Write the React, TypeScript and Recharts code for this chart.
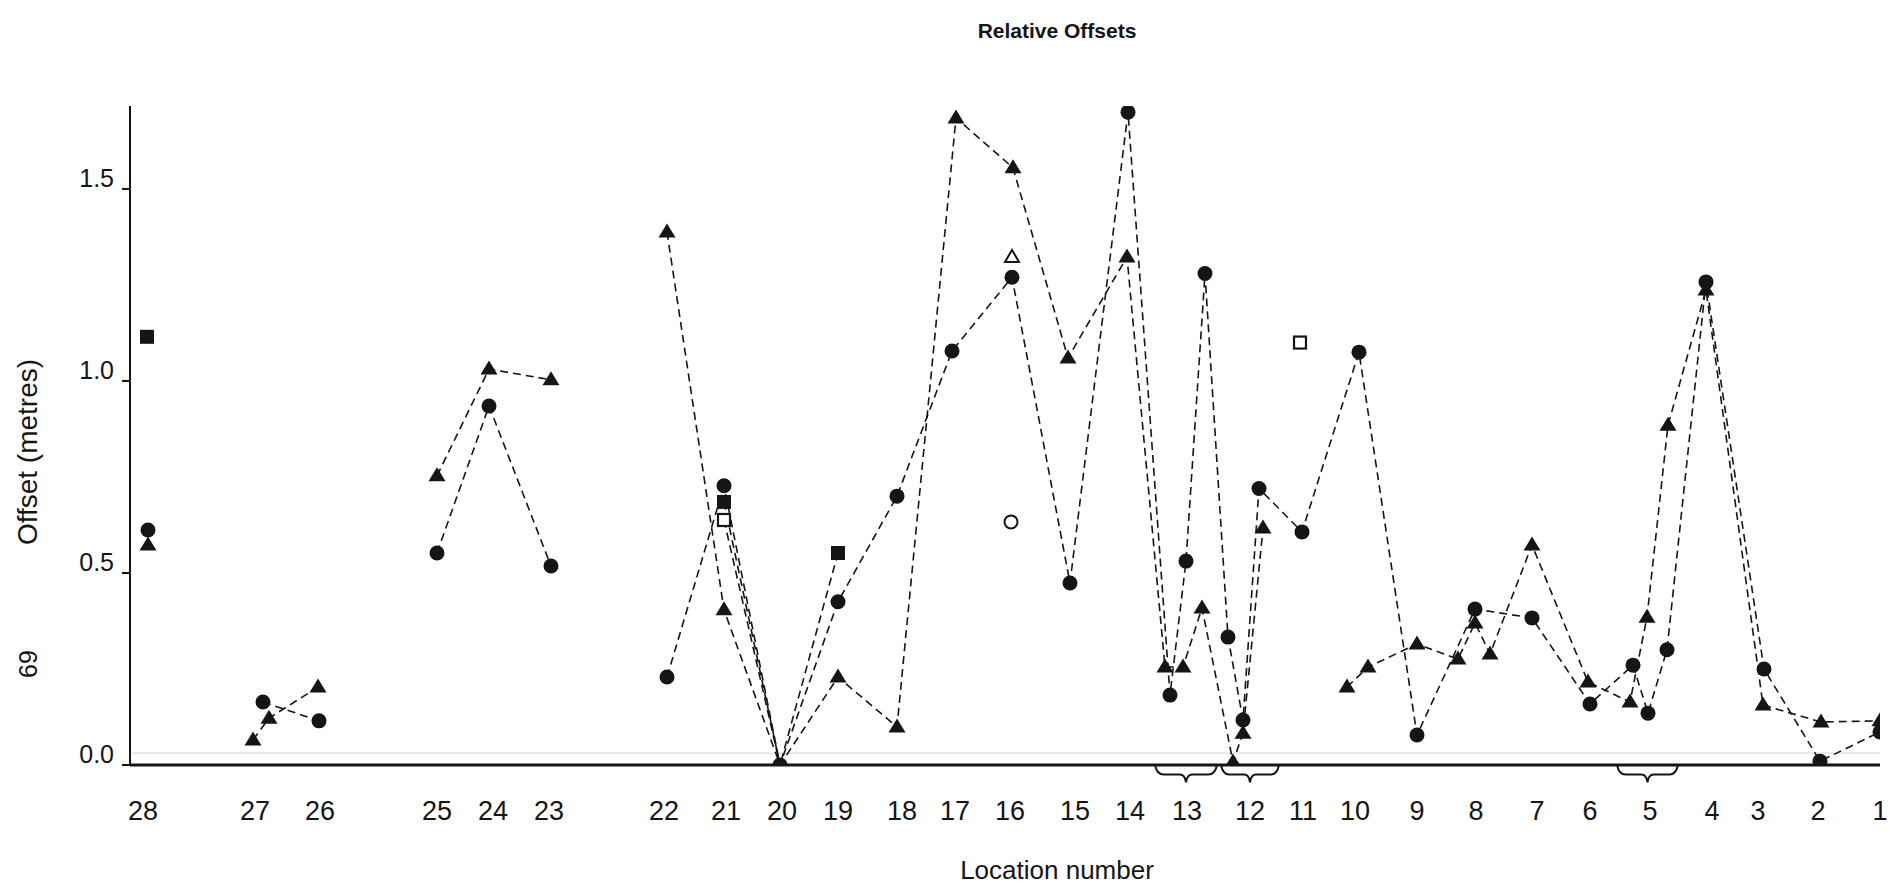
import React from 'react';
import { LineChart, Line, XAxis, YAxis, ReferenceLine, ReferenceArea } from 'recharts';

// Location labels along the traverse and their positions (distance units)
const locationLabels = ['28','27','26','25','24','23','22','21','20','19','18','17','16','15','14','13','12','11','10','9','8','7','6','5','4','3','2','1'];
const locationPos = [1.3,12.5,19.0,30.7,36.3,41.9,53.4,59.6,65.2,70.8,77.2,82.5,88.0,94.5,100.0,105.7,112.0,117.3,122.5,128.7,134.6,140.7,146.0,152.0,158.2,162.8,168.8,175.0];

// Filled circles (null = break in the dashed line)
const circlePos = [1.8,null,13.3,18.9,null,30.7,35.9,42.1,null,53.7,59.4,65.0,70.8,76.7,82.2,88.2,94.0,99.8,104.0,105.6,107.5,109.8,111.3,112.9,117.2,122.9,128.7,134.5,140.2,146.0,150.3,151.8,153.7,157.6,163.4,169.0,175.0];
const circleVal = [0.612,null,0.164,0.115,null,0.552,0.935,0.518,null,0.229,0.727,0,0.425,0.70,1.078,1.27,0.474,1.70,0.182,0.531,1.28,0.333,0.117,0.72,0.607,1.075,0.078,0.406,0.383,0.159,0.26,0.135,0.30,1.258,0.25,0.01,0.086];

// Filled triangles
const triPos = [1.8,null,12.3,13.9,18.8,null,30.7,35.9,42.1,null,53.7,59.4,65.0,70.8,76.7,82.6,88.3,93.8,99.7,103.5,105.3,107.2,110.3,111.3,113.3,null,121.7,123.8,128.7,132.8,134.5,136.0,140.2,145.8,150.0,151.7,153.8,157.6,163.3,169.1,175.0];
const triVal = [0.573,null,0.065,0.122,0.203,null,0.753,1.031,1.003,null,1.388,0.404,0,0.229,0.099,1.685,1.555,1.06,1.323,0.255,0.255,0.409,0.008,0.083,0.617,null,0.203,0.255,0.315,0.276,0.37,0.289,0.573,0.216,0.164,0.385,0.885,1.237,0.156,0.112,0.115];

// Filled squares
const sqPos = [1.7,null,59.4,65.0,70.8];
const sqVal = [1.115,null,0.685,0,0.552];

// Open squares
const osqPos = [59.4,65.0,null,117.0];
const osqVal = [0.638,0,null,1.10];

// Open triangle and open circle
const otriPos = [88.2];
const otriVal = [1.323];
const ocircPos = [88.1];
const ocircVal = [0.633];

// Braces under the axis (grouped sub-locations)
const braceFrom = [102.5, 109.1, 148.7];
const braceTo = [108.7, 114.9, 154.8];

// Location where several series meet under the circle marker
const junctionX = 65.0;

const yTicks = [0, 0.5, 1.0, 1.5];

function build(pos: (number | null)[], val: (number | null)[]) {
  return pos.map((p, i) => {
    if (p === null) {
      const a = pos[i - 1] as number;
      const b = pos[i + 1] as number;
      return { x: (a + b) / 2, y: null };
    }
    return { x: p, y: val[i] };
  });
}

const circleData = build(circlePos, circleVal);
const triData = build(triPos, triVal);
const sqData = build(sqPos, sqVal);
const osqData = build(osqPos, osqVal);
const otriData = build(otriPos, otriVal);
const ocircData = build(ocircPos, ocircVal);

const INK = '#151515';
const FONT = '"Liberation Sans", Arial, Helvetica, sans-serif';

const ok = (p: any) => p && p.cx != null && p.cy != null && p.value != null && !Number.isNaN(p.cy);

const CircleDot = (p: any) => ok(p) ? <circle key={p.key} cx={p.cx} cy={p.cy} r={7.5} fill={INK} /> : <g key={p.key} />;
const TriDot = (p: any) => (ok(p) && p.payload.x !== junctionX)
  ? <polygon key={p.key} points={`${p.cx},${p.cy - 8.5} ${p.cx + 8.5},${p.cy + 5.5} ${p.cx - 8.5},${p.cy + 5.5}`} fill={INK} />
  : <g key={p.key} />;
const SqDot = (p: any) => (ok(p) && p.payload.x !== junctionX)
  ? <rect key={p.key} x={p.cx - 7} y={p.cy - 7} width={14} height={14} fill={INK} />
  : <g key={p.key} />;
const OSqDot = (p: any) => (ok(p) && p.payload.x !== junctionX)
  ? <rect key={p.key} x={p.cx - 6} y={p.cy - 6} width={12} height={12} fill="#fff" stroke={INK} strokeWidth={2.2} />
  : <g key={p.key} />;
const OTriDot = (p: any) => ok(p)
  ? <polygon key={p.key} points={`${p.cx},${p.cy - 7} ${p.cx + 7},${p.cy + 5} ${p.cx - 7},${p.cy + 5}`} fill="#fff" stroke={INK} strokeWidth={2} />
  : <g key={p.key} />;
const OCircDot = (p: any) => ok(p) ? <circle key={p.key} cx={p.cx} cy={p.cy} r={6.5} fill="#fff" stroke={INK} strokeWidth={2} /> : <g key={p.key} />;

const XTick = (props: any) => {
  const { x, y, payload } = props;
  const idx = locationPos.indexOf(payload.value);
  return (
    <text x={x} y={y + 55} textAnchor="middle" fontSize={27} fontFamily={FONT} fill={INK}>
      {idx >= 0 ? locationLabels[idx] : ''}
    </text>
  );
};

const YTick = (props: any) => {
  const { x, y, payload } = props;
  return (
    <text x={x - 4} y={y - 2} textAnchor="end" fontSize={25} fontFamily={FONT} fill={INK}>
      {Number(payload.value).toFixed(1)}
    </text>
  );
};

const Brace = (props: any) => {
  const { x, y, width, height } = props;
  const x0 = x, x1 = x + width, xm = x + width / 2;
  const y0 = y, h = Math.abs(height), ym = y0 + h * 0.55, yb = y0 + h;
  const d = `M ${x0} ${y0} Q ${x0 + 2} ${ym} ${x0 + width * 0.14} ${ym} L ${xm - width * 0.1} ${ym} Q ${xm - 1} ${ym} ${xm} ${yb} Q ${xm + 1} ${ym} ${xm + width * 0.1} ${ym} L ${x1 - width * 0.14} ${ym} Q ${x1 - 2} ${ym} ${x1} ${y0}`;
  return <path d={d} fill="none" stroke={INK} strokeWidth={2} />;
};

const lineProps = {
  type: 'linear' as const,
  dataKey: 'y',
  stroke: INK,
  strokeWidth: 1.6,
  strokeDasharray: '8 5',
  connectNulls: false,
  isAnimationActive: false,
  activeDot: false as const,
  legendType: 'none' as const,
};

export default function App() {
  return (
    <div style={{ position: 'absolute', left: 0, top: 0, width: 1890, height: 885, background: '#fff', fontFamily: FONT }}>
      <LineChart width={1890} height={885} margin={{ top: 106, right: 10, bottom: 119, left: 129 }}>
        <XAxis
          dataKey="x"
          type="number"
          domain={[0, 175]}
          allowDataOverflow
          ticks={locationPos}
          interval={0}
          tick={<XTick />}
          tickLine={false}
          tickSize={0}
          tickMargin={0}
          height={1}
          axisLine={{ stroke: INK, strokeWidth: 3 }}
        />
        <YAxis
          type="number"
          domain={[0, 1.716]}
          allowDataOverflow
          ticks={yTicks}
          tick={<YTick />}
          tickSize={8}
          tickMargin={4}
          width={1}
          axisLine={{ stroke: INK, strokeWidth: 2 }}
          tickLine={{ stroke: INK, strokeWidth: 2 }}
        />
        <ReferenceLine y={0.031} stroke="#d4d4d4" strokeWidth={1} ifOverflow="visible" />
        {braceFrom.map((b, i) => (
          <ReferenceArea key={i} x1={b} x2={braceTo[i]} y1={0} y2={-0.045} ifOverflow="visible" shape={<Brace />} />
        ))}
        <Line {...lineProps} data={sqData} dot={<SqDot />} />
        <Line {...lineProps} data={osqData} dot={<OSqDot />} />
        <Line {...lineProps} data={triData} dot={<TriDot />} />
        <Line {...lineProps} data={circleData} dot={<CircleDot />} />
        <Line {...lineProps} data={otriData} dot={<OTriDot />} />
        <Line {...lineProps} data={ocircData} dot={<OCircDot />} />
      </LineChart>
      <div style={{ position: 'absolute', left: 1057, top: 31, transform: 'translate(-50%, -50%)', fontSize: 21, fontWeight: 'bold', color: INK, whiteSpace: 'nowrap' }}>
        Relative Offsets
      </div>
      <div style={{ position: 'absolute', left: 1057, top: 870, transform: 'translate(-50%, -50%)', fontSize: 26, color: INK, whiteSpace: 'nowrap' }}>
        Location number
      </div>
      <div style={{ position: 'absolute', left: 28, top: 452, transform: 'translate(-50%, -50%) rotate(-90deg)', fontSize: 28, color: INK, whiteSpace: 'nowrap' }}>
        Offset (metres)
      </div>
      <div style={{ position: 'absolute', left: 28, top: 664, transform: 'translate(-50%, -50%) rotate(-90deg)', fontSize: 25, color: INK, whiteSpace: 'nowrap' }}>
        69
      </div>
    </div>
  );
}
